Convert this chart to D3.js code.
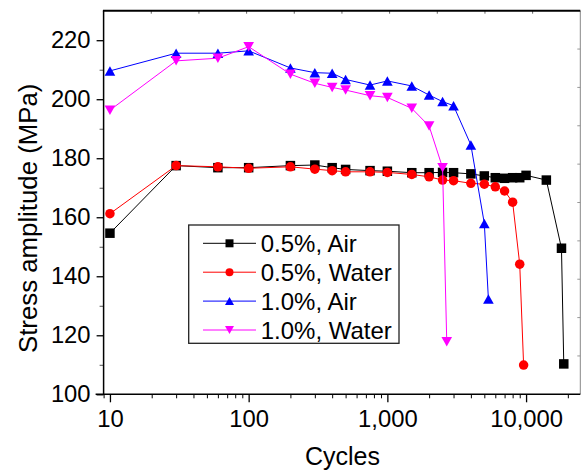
<!DOCTYPE html>
<html>
<head>
<meta charset="utf-8">
<script src="https://cdn.jsdelivr.net/npm/d3@7"></script>
<style>
  body { margin: 0; background: #fff; }
  svg text { font-family: "Liberation Sans", Arial, sans-serif; fill: #000; }
</style>
</head>
<body>
<div id="chart"></div>
<script>
// values
var cyclesAir05 = [10, 30, 60, 100, 200, 300, 400, 500, 750, 1000, 1500, 2000, 2500, 3000, 4000, 5000, 6000, 7000, 8000, 9000, 10000, 14000, 18000, 18700];
var stressAir05 = [154.6, 177.5, 176.8, 176.8, 177.5, 177.7, 176.8, 176.2, 175.8, 175.6, 175.1, 175.1, 175.2, 175.1, 174.7, 174.0, 173.4, 173.2, 173.4, 173.4, 174.2, 172.6, 149.5, 110.3];

var cyclesWater05 = [10, 30, 60, 100, 200, 300, 400, 500, 750, 1000, 1500, 2000, 2500, 3000, 4000, 5000, 6000, 7000, 8000, 9000, 9600];
var stressWater05 = [161.2, 177.5, 177.1, 176.6, 177.1, 176.3, 175.8, 175.4, 175.4, 175.2, 174.5, 173.7, 172.6, 172.4, 171.5, 171.2, 170.3, 168.9, 165.1, 144.1, 109.9];

var cyclesAir10 = [10, 30, 60, 100, 200, 300, 400, 500, 750, 1000, 1500, 2000, 2500, 3000, 4000, 5000, 5350];
var stressAir10 = [209.6, 215.6, 215.6, 216.4, 210.6, 209.0, 208.8, 206.7, 204.8, 206.2, 204.5, 201.4, 199.2, 197.8, 184.5, 157.9, 132.3];

var cyclesWater10 = [10, 30, 60, 100, 200, 300, 400, 500, 750, 1000, 1500, 2000, 2500, 2680];
var stressWater10 = [196.3, 213.0, 213.9, 217.8, 208.5, 205.4, 204.0, 203.1, 201.2, 200.6, 196.9, 190.9, 176.8, 117.8];

var seriesNames = ["0.5%, Air", "0.5%, Water", "1.0%, Air", "1.0%, Water"];
var seriesColors = ["#000000", "#ff0000", "#0000ff", "#ff00ff"];
var seriesShapes = ["square", "circle", "up", "down"];

var xMajorTicks = [10, 100, 1000, 10000];
var yMajorTicks = [100, 120, 140, 160, 180, 200, 220];

var svgWidth = 581;
var svgHeight = 471;

var margin = { top: 10.7, left: 103.6 };
var width = 580.3 - margin.left;
var height = 394.3 - margin.top;

var svg = d3.select("#chart")
  .append("svg")
  .attr("width", svgWidth)
  .attr("height", svgHeight);

var chartGroup = svg.append("g")
  .attr("transform", `translate(${margin.left}, ${margin.top})`);

var xScale = d3.scaleLog().domain([9, 24600]).range([0, width]);
var yScale = d3.scaleLinear().domain([100, 230]).range([height, 0]);

// minor ticks
var xMinor = [];
[1, 10, 100, 1000, 10000].forEach(function (dec) {
  for (var k = 2; k <= 9; k++) {
    var v = dec * k;
    if (v >= 9 && v <= 24600) xMinor.push(v);
  }
});
var yMinor = d3.range(110, 230, 20);

chartGroup.append("g")
  .attr("transform", `translate(0, ${height})`)
  .call(d3.axisBottom(xScale).tickValues(xMinor).tickSize(4).tickFormat(""))
  .call(g => g.select(".domain").remove())
  .call(g => g.selectAll("line").attr("stroke", "#000").attr("stroke-width", 1));

chartGroup.append("g")
  .attr("transform", `translate(0, ${height})`)
  .call(d3.axisBottom(xScale).tickValues(xMajorTicks).tickSize(8).tickPadding(7.7).tickFormat(d3.format(",")))
  .call(g => g.select(".domain").remove())
  .call(g => g.selectAll("line").attr("stroke", "#000").attr("stroke-width", 1.3))
  .call(g => g.selectAll("text").style("font-size", "23.8px").attr("fill", "#000"));

chartGroup.append("g")
  .call(d3.axisLeft(yScale).tickValues(yMinor).tickSize(4).tickFormat(""))
  .call(g => g.select(".domain").remove())
  .call(g => g.selectAll("line").attr("stroke", "#555").attr("stroke-width", 1));

chartGroup.append("g")
  .call(d3.axisLeft(yScale).tickValues(yMajorTicks).tickSize(7).tickPadding(6))
  .call(g => g.select(".domain").remove())
  .call(g => g.selectAll("line").attr("stroke", "#000").attr("stroke-width", 1.3))
  .call(g => g.selectAll("text").style("font-size", "23.8px").attr("fill", "#000"));

// top and right: inward ticks at tenths of the frame
var tenths = d3.range(1, 10);
chartGroup.selectAll(".topTick")
  .data(tenths)
  .enter()
  .append("line")
  .attr("x1", d => d * width / 10).attr("x2", d => d * width / 10)
  .attr("y1", 0).attr("y2", 3)
  .attr("stroke", "#666").attr("stroke-width", 1);

chartGroup.selectAll(".rightTick")
  .data(tenths)
  .enter()
  .append("line")
  .attr("x1", width).attr("x2", width - 3)
  .attr("y1", d => d * height / 10).attr("y2", d => d * height / 10)
  .attr("stroke", "#999").attr("stroke-width", 1);

// frame
chartGroup.append("line").attr("x1", width).attr("x2", width).attr("y1", 0).attr("y2", height)
  .attr("stroke", "#888").attr("stroke-width", 1);
chartGroup.append("line").attr("x1", -0.7).attr("x2", width).attr("y1", 0).attr("y2", 0)
  .attr("stroke", "#000").attr("stroke-width", 2);
chartGroup.append("line").attr("x1", 0).attr("x2", 0).attr("y1", 0).attr("y2", height)
  .attr("stroke", "#000").attr("stroke-width", 1.5);
chartGroup.append("line").attr("x1", -8).attr("x2", width).attr("y1", height).attr("y2", height)
  .attr("stroke", "#000").attr("stroke-width", 1.5);

// marker path helper
function markerPath(shape, s) {
  if (shape == "square") return `M${-s / 2},${-s / 2}h${s}v${s}h${-s}Z`;
  if (shape == "circle") return d3.arc()({ innerRadius: 0, outerRadius: s / 2, startAngle: 0, endAngle: 2 * Math.PI });
  var w = s * 1.12, h = s;
  if (shape == "up") return `M0,${-h / 2}L${w / 2},${h / 2}L${-w / 2},${h / 2}Z`;
  return `M0,${h / 2}L${w / 2},${-h / 2}L${-w / 2},${-h / 2}Z`;
}

var allSeries = [
  { x: cyclesAir05, y: stressAir05 },
  { x: cyclesWater05, y: stressWater05 },
  { x: cyclesAir10, y: stressAir10 },
  { x: cyclesWater10, y: stressWater10 }
];

var line = d3.line().x(d => xScale(d[0])).y(d => yScale(d[1]));

allSeries.forEach(function (s, i) {
  var pts = s.x.map((c, j) => [c, s.y[j]]);
  chartGroup.append("path")
    .datum(pts)
    .attr("d", line)
    .attr("fill", "none")
    .attr("stroke", seriesColors[i])
    .attr("stroke-width", 1);

  chartGroup.selectAll(".m" + i)
    .data(pts)
    .enter()
    .append("path")
    .attr("transform", d => `translate(${xScale(d[0])}, ${yScale(d[1])})`)
    .attr("d", markerPath(seriesShapes[i], 9.5))
    .attr("fill", seriesColors[i]);
});

// legend
var legend = svg.append("g").attr("transform", "translate(188.7, 225)");
legend.append("rect")
  .attr("width", 210.3).attr("height", 118.3)
  .attr("fill", "#fff").attr("stroke", "#222").attr("stroke-width", 1.3);

seriesNames.forEach(function (name, i) {
  var yy = 18.3 + i * 28.9;
  legend.append("line")
    .attr("x1", 14.3).attr("x2", 67.3).attr("y1", yy).attr("y2", yy)
    .attr("stroke", seriesColors[i]).attr("stroke-width", 1);
  legend.append("path")
    .attr("transform", `translate(40.8, ${yy})`)
    .attr("d", markerPath(seriesShapes[i], 8))
    .attr("fill", seriesColors[i]);
  legend.append("text")
    .attr("x", 72)
    .attr("y", yy)
    .attr("dy", "0.36em")
    .style("font-size", "24px")
    .text(name);
});

// axis titles
svg.append("text")
  .attr("transform", "translate(37, 218.3) rotate(-90)")
  .attr("text-anchor", "middle")
  .style("font-size", "25.8px")
  .text("Stress amplitude (MPa)");

svg.append("text")
  .attr("x", 342.5)
  .attr("y", 465)
  .attr("text-anchor", "middle")
  .style("font-size", "25px")
  .text("Cycles");
</script>
</body>
</html>
